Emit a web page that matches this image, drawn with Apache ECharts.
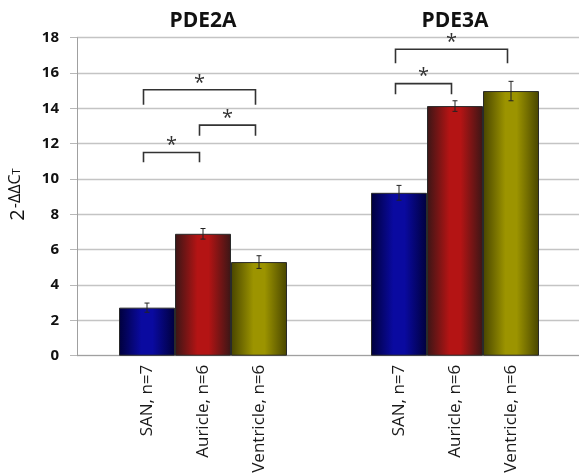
<!DOCTYPE html>
<html><head><meta charset="utf-8">
<script src="https://cdn.jsdelivr.net/npm/echarts@6/dist/echarts.min.js"></script>
<style>html,body{margin:0;padding:0;background:#fff}#c{width:579px;height:474px}</style>
</head><body><div id="c"></div>
<script>
// ---- data ----
const genes = ['PDE2A', 'PDE3A'];
const tissues = ['SAN, n=7', 'Auricle, n=6', 'Ventricle, n=6'];
const sanMean = [2.72, 9.22];
const auricleMean = [6.9, 14.13];
const ventricleMean = [5.3, 14.98];
const sanErr = [0.26, 0.42];
const auricleErr = [0.3, 0.3];
const ventricleErr = [0.36, 0.55];
const yMin = 0, yMax = 18, yStep = 2;
// significance brackets: [gene index, from tissue, to tissue, bracket level, leg end]
const brackets = [
  [0, 0, 1, 11.5, 10.95],
  [0, 1, 2, 13.05, 12.45],
  [0, 0, 2, 15.05, 14.2],
  [1, 0, 1, 15.4, 14.8],
  [1, 0, 2, 17.35, 16.55]
];
const starText = '*';
const yTitleBase = '2', yTitleSup = '-ΔΔC', yTitleSub = 'T';

// ---- styles ----
const FAM = 'Open Sans';
const FONT = '"Open Sans", sans-serif';
const GAP = 1 / 3;
const palettes = [
  ['#00003c', '#0a0aa0'],
  ['#3a1616', '#b41414'],
  ['#484500', '#9c9400']
];
function grad(p) {
  return new echarts.graphic.LinearGradient(0, 0, 1, 0, [
    { offset: 0, color: p[0] },
    { offset: 0.4, color: p[1] },
    { offset: 0.6, color: p[1] },
    { offset: 1, color: p[0] }
  ]);
}
function barOffset(api, k) {
  const cw = api.size([1, 0])[0];
  const bw = cw * (1 - GAP) / 3;
  return (k - 1) * bw;
}
const mctx = document.createElement('canvas').getContext('2d');
function tw(t, size) { mctx.font = size + 'px "' + FAM + '"'; return mctx.measureText(t).width; }

const means = [sanMean, auricleMean, ventricleMean];
const errs = [sanErr, auricleErr, ventricleErr];
const errData = [];
means.forEach((m, k) => m.forEach((v, g) => errData.push([g, k, v, errs[k][g]])));

// y-axis title: pieces placed along a vertical baseline (text reads bottom to top)
const S0 = 20, S1 = 16, S2 = 11;
const w0 = tw(yTitleBase, S0), w1 = tw(yTitleSup, S1), w2 = tw(yTitleSub, S2);
const CX = 19, CY = 193;
const startY = CY + (w0 + w1 + w2) / 2 + 2;   // bottom end of the title
// for rotation PI/2 with verticalAlign top, text top edge sits at screen x
function titlePiece(text, size, along, left) {
  return { type: 'text', x: left, y: startY - along, rotation: Math.PI / 2,
    style: { text: text, fontSize: size, fontFamily: FAM, fill: '#111' } };
}
const titleEls = [
  titlePiece(yTitleBase, S0, 0, 8),
  titlePiece(yTitleSup, S1, w0 + 1, 7),
  titlePiece(yTitleSub, S2, w0 + 1 + w1, 11)
];

const chart = echarts.init(document.getElementById('c'));
const barSeries = tissues.map((name, k) => ({
  type: 'bar', name: name, data: means[k], xAxisIndex: 0,
  barGap: '0%', barCategoryGap: (GAP * 100) + '%',
  itemStyle: { color: grad(palettes[k]), borderColor: '#2a2a2a', borderWidth: 1 },
  label: {
    show: true, position: 'bottom', distance: 9, rotate: 90,
    align: 'right', verticalAlign: 'middle',
    formatter: p => p.seriesName,
    fontFamily: FONT, fontSize: 17, color: '#1a1a1a'
  },
  emphasis: { disabled: true }
}));

chart.setOption({
  animation: false,
  grid: { left: 77, top: 37.7, width: 504, height: 318, outerBoundsMode: 'none', containLabel: false },
  xAxis: [
    { type: 'category', data: genes, position: 'bottom',
      axisLine: { lineStyle: { color: '#a0a0a0', width: 1 } },
      axisTick: { show: false }, axisLabel: { show: false } },
    { type: 'category', data: genes, position: 'top',
      axisLine: { show: false }, axisTick: { show: false },
      axisLabel: { show: true, margin: 6, fontFamily: FONT, fontWeight: 'bold', fontSize: 21, color: '#111' } }
  ],
  yAxis: {
    type: 'value', min: yMin, max: yMax, interval: yStep,
    axisLine: { show: true, lineStyle: { color: '#a0a0a0' } },
    axisTick: { show: true, length: 7, lineStyle: { color: '#b8b8b8' } },
    splitLine: { lineStyle: { color: '#c4c4c4', width: 1.4 } },
    axisLabel: { margin: 18, fontFamily: FONT, fontWeight: 'bold', fontSize: 15, color: '#111' }
  },
  graphic: titleEls,
  series: barSeries.concat([
    {
      type: 'custom', name: 'err', z: 5, data: errData, encode: { x: 0, y: 2 },
      renderItem: function (params, api) {
        const g = api.value(0), k = api.value(1), v = api.value(2), e = api.value(3);
        const top = api.coord([g, v + e]), bot = api.coord([g, v - e]);
        const x = top[0] + barOffset(api, k);
        const st = { stroke: '#222', lineWidth: 1 };
        return { type: 'group', children: [
          { type: 'line', shape: { x1: x, y1: top[1], x2: x, y2: bot[1] }, style: st },
          { type: 'line', shape: { x1: x - 2.5, y1: top[1], x2: x + 2.5, y2: top[1] }, style: st },
          { type: 'line', shape: { x1: x - 2.5, y1: bot[1], x2: x + 2.5, y2: bot[1] }, style: st }
        ] };
      }
    },
    {
      type: 'custom', name: 'sig', z: 5, data: brackets, encode: { x: 0, y: 3 },
      renderItem: function (params, api) {
        const g = api.value(0), a = api.value(1), b = api.value(2);
        const lvl = api.coord([g, api.value(3)]), leg = api.coord([g, api.value(4)]);
        const x1 = lvl[0] + barOffset(api, a) - 3.5, x2 = lvl[0] + barOffset(api, b) - 3.5;
        return { type: 'group', children: [
          { type: 'polyline', shape: { points: [[x1, leg[1]], [x1, lvl[1]], [x2, lvl[1]], [x2, leg[1]]] },
            style: { stroke: '#333', lineWidth: 1.6, fill: null } },
          { type: 'text', x: (x1 + x2) / 2, y: lvl[1] - 7,
            style: { text: starText, fill: '#333', fontSize: 20, fontFamily: FAM, align: 'center', verticalAlign: 'middle' } }
        ] };
      }
    }
  ])
});
</script></body></html>
